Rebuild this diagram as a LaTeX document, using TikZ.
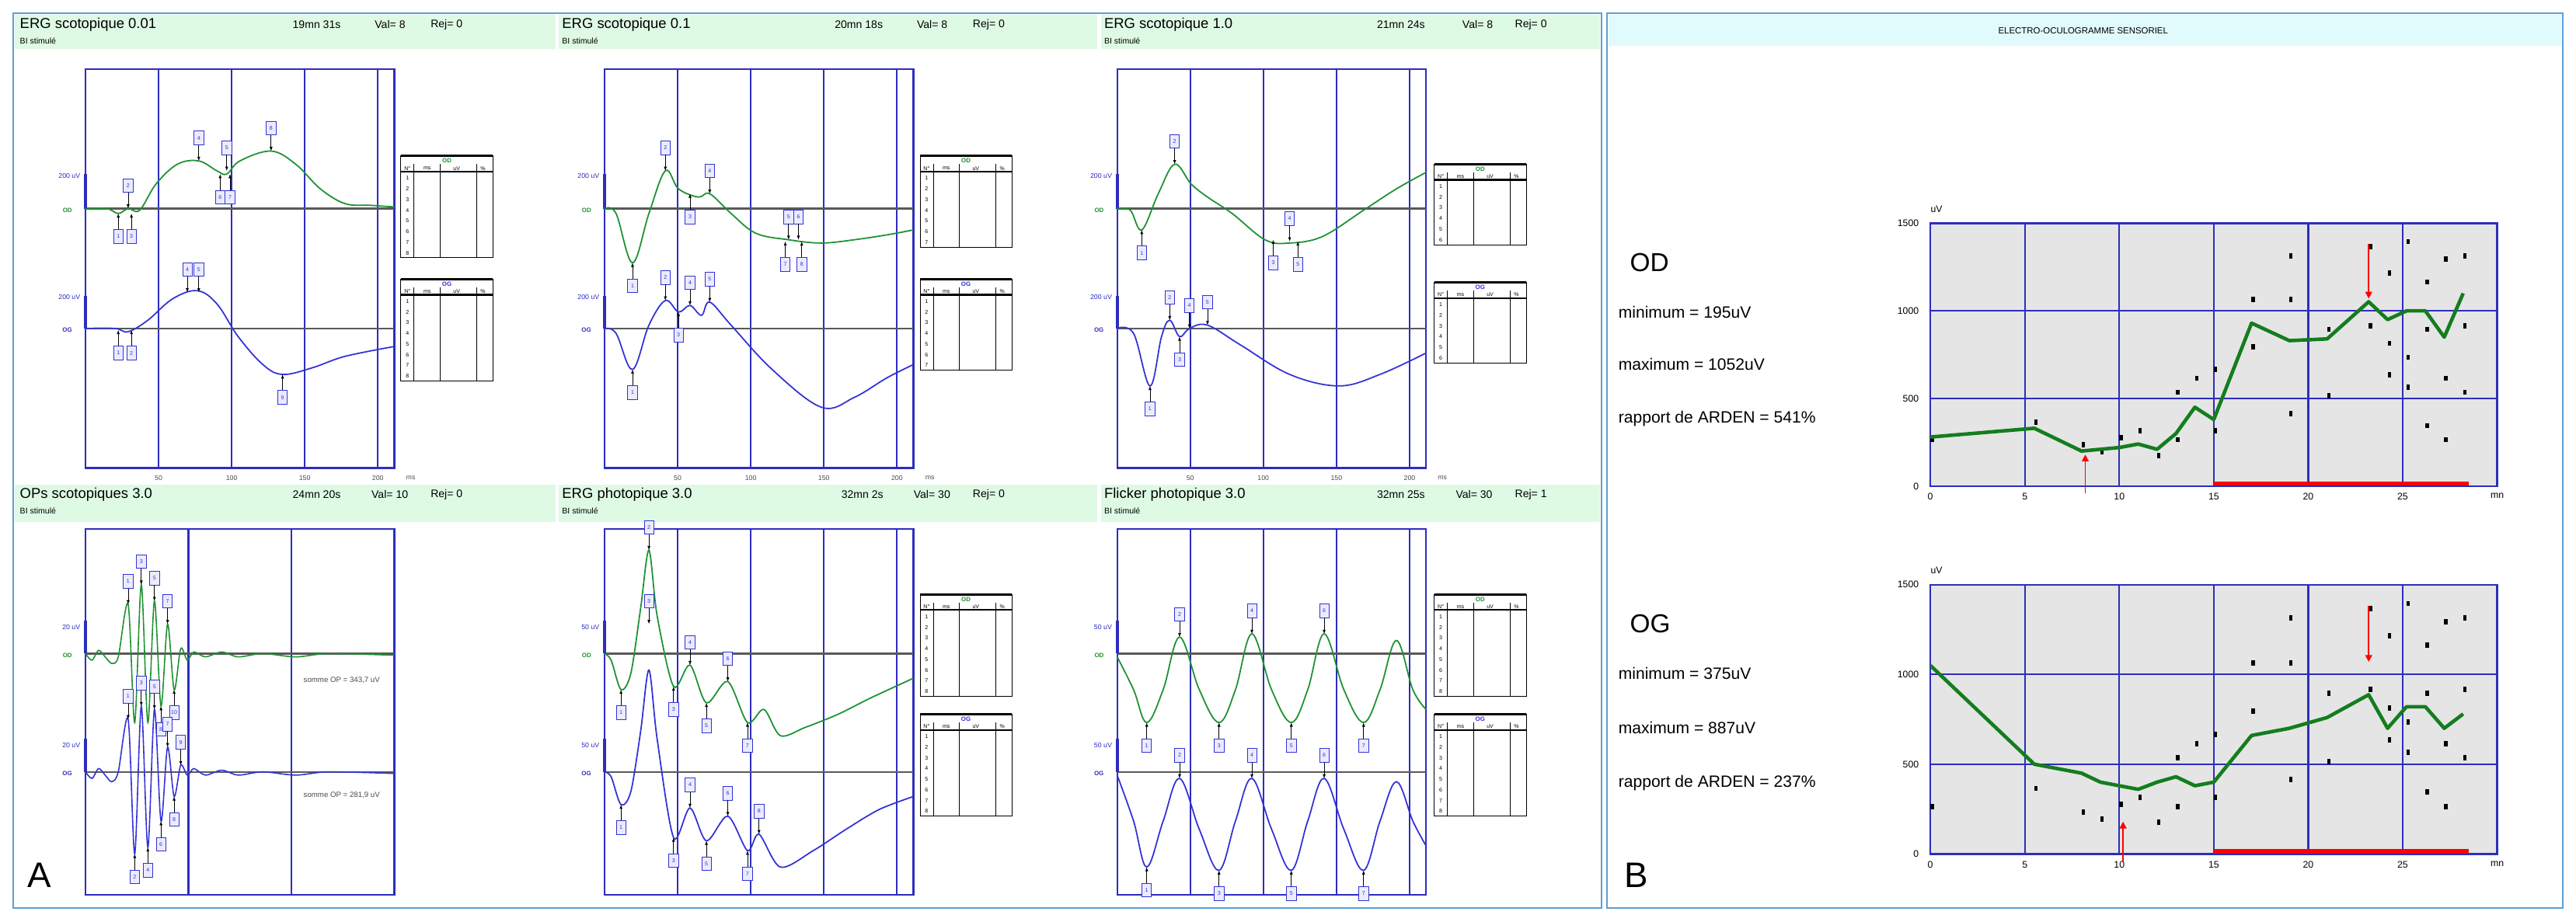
\documentclass[tikz,border=0pt]{standalone}
\usepackage{fontspec}
\setmainfont{Liberation Sans}
\usetikzlibrary{arrows.meta}
\definecolor{gc}{RGB}{30,145,50}
\definecolor{bc}{RGB}{50,50,215}
\definecolor{grid}{RGB}{45,45,190}
\definecolor{hdr}{RGB}{222,250,228}
\definecolor{hdrb}{RGB}{225,250,252}
\definecolor{pb}{RGB}{90,160,215}
\definecolor{eog}{RGB}{20,125,30}
\tikzset{
 ttl/.style={anchor=west,font=\fontsize{10.5}{12}\selectfont,inner sep=0},
 sub/.style={anchor=west,font=\fontsize{6}{7}\selectfont,inner sep=0},
 ax/.style={font=\fontsize{5}{6}\selectfont,inner sep=0,text=grid},
 tb/.style={font=\fontsize{4}{5}\selectfont,inner sep=0},
 mkb/.style={draw=bc,fill=blue!8,font=\fontsize{4}{5}\selectfont,inner sep=0.8pt,minimum width=7pt,minimum height=10pt,text=bc},
 big/.style={anchor=west,font=\fontsize{12}{14}\selectfont,inner sep=0},
 gl/.style={grid,line width=1.3pt},
}
\newcommand\mku[3]{\node[mkb] (m) at (#1,#2-14) {#3}; \draw[-{Latex[length=3pt]},thin] (m.south) -- (#1,#2);}
\newcommand\mkd[3]{\node[mkb] (m) at (#1,#2+14) {#3}; \draw[-{Latex[length=3pt]},thin] (m.north) -- (#1,#2);}
\newcommand\pgridA[5]{% x0 ytop ybot yOD yOG
 \draw[gl] (#1,#2) rectangle (#1+188,#3);
 \draw[gl] (#1+44.5,#2) -- (#1+44.5,#3);
 \draw[gl] (#1+89,#2) -- (#1+89,#3);
 \draw[gl] (#1+133.5,#2) -- (#1+133.5,#3);
 \draw[gl] (#1+178,#2) -- (#1+178,#3);
 \draw[gray!70!black,line width=1.3pt] (#1,#4) -- (#1+188,#4);
 \draw[gray!70!black,line width=1.3pt] (#1,#5) -- (#1+188,#5);}
\newcommand\tbl[5]{% x y label color nrows
 \draw[black,line width=0.5pt] (#1,#2) rectangle (#1+56,#2+10+#5*6.5);
 \draw[black,line width=1.6pt] (#1,#2) -- (#1+56,#2);
 \node[tb,text=#4,font=\fontsize{4.5}{5}\selectfont\bfseries] at (#1+28,#2+3) {#3};
 \draw[line width=1.2pt] (#1,#2+9.5) -- (#1+56,#2+9.5);
 \node[tb] at (#1+4,#2+7.5) {N°};\node[tb] at (#1+16,#2+7.5) {ms};\node[tb] at (#1+34,#2+7.5) {uV};\node[tb] at (#1+50,#2+7.5) {\%};
 \foreach \c in {8,24,46} \draw[line width=0.4pt] (#1+\c,#2+5) -- (#1+\c,#2+10+#5*6.5);
 \foreach \r in {1,...,#5} {\node[tb] at (#1+4,#2+7+\r*6.5) {\r};}}
\begin{document}
\begin{tikzpicture}[x=0.04228cm,y=-0.04228cm]
\useasboundingbox (0,0) rectangle (1568,561);
\fill[white] (0,0) rectangle (1568,561);
% panel frames
\draw[pb,line width=1.2pt] (8,8) rectangle (975,553);
\draw[pb,line width=1.2pt] (978,8) rectangle (1560,553);
% headers
\foreach \xa/\xb in {9/338,340/668,670/974}{
 \fill[hdr] (\xa,9) rectangle (\xb,30);
 \fill[hdr] (\xa,295) rectangle (\xb,318);}
\fill[hdrb] (979,9) rectangle (1559,28);
\node[font=\fontsize{6.5}{8}\selectfont,inner sep=0] at (1268,18.5) {ELECTRO-OCULOGRAMME SENSORIEL};
% titles row1
\node[ttl] at (12,15) {ERG scotopique 0.01};
\node[ttl,font=\fontsize{8}{9}\selectfont] at (178,15) {19mn 31s};
\node[ttl,font=\fontsize{8}{9}\selectfont] at (228,15) {Val= 8};
\node[ttl,font=\fontsize{8}{9}\selectfont] at (262,15) {Rej= 0};
\node[ttl] at (342,15) {ERG scotopique 0.1};
\node[ttl,font=\fontsize{8}{9}\selectfont] at (508,15) {20mn 18s};
\node[ttl,font=\fontsize{8}{9}\selectfont] at (558,15) {Val= 8};
\node[ttl,font=\fontsize{8}{9}\selectfont] at (592,15) {Rej= 0};
\node[ttl] at (672,15) {ERG scotopique 1.0};
\node[ttl,font=\fontsize{8}{9}\selectfont] at (838,15) {21mn 24s};
\node[ttl,font=\fontsize{8}{9}\selectfont] at (890,15) {Val= 8};
\node[ttl,font=\fontsize{8}{9}\selectfont] at (922,15) {Rej= 0};
\foreach \x in {12,342,672} \node[sub] at (\x,25) {BI stimulé};
\node[ttl] at (12,301) {OPs scotopiques 3.0};
\node[ttl,font=\fontsize{8}{9}\selectfont] at (178,301) {24mn 20s};
\node[ttl,font=\fontsize{8}{9}\selectfont] at (226,301) {Val= 10};
\node[ttl,font=\fontsize{8}{9}\selectfont] at (262,301) {Rej= 0};
\node[ttl] at (342,301) {ERG photopique 3.0};
\node[ttl,font=\fontsize{8}{9}\selectfont] at (512,301) {32mn 2s};
\node[ttl,font=\fontsize{8}{9}\selectfont] at (556,301) {Val= 30};
\node[ttl,font=\fontsize{8}{9}\selectfont] at (592,301) {Rej= 0};
\node[ttl] at (672,301) {Flicker photopique 3.0};
\node[ttl,font=\fontsize{8}{9}\selectfont] at (838,301) {32mn 25s};
\node[ttl,font=\fontsize{8}{9}\selectfont] at (886,301) {Val= 30};
\node[ttl,font=\fontsize{8}{9}\selectfont] at (922,301) {Rej= 1};
\foreach \x in {12,342,672} \node[sub] at (\x,311) {BI stimulé};
% top row grids
\foreach \x in {52,368,680}{
 \pgridA{\x}{42}{285}{127}{200}
 \draw[grid,line width=2.2pt] (\x,106) -- (\x,127);
 \draw[grid,line width=2.2pt] (\x,180) -- (\x,200);
 \node[ax,anchor=east] at (\x-3,107) {200 uV};
 \node[ax,anchor=east,text=gc,font=\fontsize{4.5}{5}\selectfont\bfseries] at (\x-8,128) {OD};
 \node[ax,anchor=east] at (\x-3,181) {200 uV};
 \node[ax,anchor=east,font=\fontsize{4.5}{5}\selectfont\bfseries] at (\x-8,201) {OG};
 \foreach \t/\k in {50/1,100/2,150/3,200/4} \node[ax,text=black!70] at (\x+\k*44.5,291) {\t};
 \node[ax,text=black!70] at (\x+198,291) {ms};}
% bottom row grids
\draw[gl] (52,322) rectangle (240,545);
\draw[gl] (114.7,322) -- (114.7,545);
\draw[gl] (177.3,322) -- (177.3,545);
\draw[gray!70!black,line width=1.3pt] (52,398) -- (240,398);
\draw[gray!70!black,line width=1.3pt] (52,470) -- (240,470);
\pgridA{368}{322}{545}{398}{470}
\pgridA{680}{322}{545}{398}{470}
\foreach \x/\u in {52/20 uV,368/50 uV,680/50 uV}{
 \draw[grid,line width=2.2pt] (\x,378) -- (\x,398);
 \draw[grid,line width=2.2pt] (\x,450) -- (\x,470);
 \node[ax,anchor=east] at (\x-3,382) {\u};
 \node[ax,anchor=east,text=gc,font=\fontsize{4.5}{5}\selectfont\bfseries] at (\x-8,399) {OD};
 \node[ax,anchor=east] at (\x-3,454) {\u};
 \node[ax,anchor=east,font=\fontsize{4.5}{5}\selectfont\bfseries] at (\x-8,471) {OG};}
% tables
\tbl{244}{95}{OD}{gc}{8}\tbl{244}{170}{OG}{bc}{8}
\tbl{560}{95}{OD}{gc}{7}\tbl{560}{170}{OG}{bc}{7}
\tbl{873}{100}{OD}{gc}{6}\tbl{873}{172}{OG}{bc}{6}
\tbl{560}{362}{OD}{gc}{8}\tbl{560}{435}{OG}{bc}{8}
\tbl{873}{362}{OD}{gc}{8}\tbl{873}{435}{OG}{bc}{8}
% ERG curves top col1
\draw[gc,line width=1pt] plot[smooth,tension=0.6] coordinates{(52,127)(65,127)(72,130)(78,127)(85,128)(95,112)(108,100)(121,98)(132,104)(138,106)(146,98)(165,92)(180,100)(195,115)(210,124)(225,125)(240,126)};
\draw[bc,line width=1pt] plot[smooth,tension=0.6] coordinates{(52,200)(70,200)(78,202)(90,195)(105,182)(120,177)(132,185)(145,205)(160,222)(172,228)(190,224)(210,217)(240,211)};
\mkd{72}{130}{1}\mku{78}{127}{2}\mkd{80}{130}{3}\mku{121}{98}{4}\mku{138}{104}{5}\mkd{134}{106}{6}\mkd{140}{106}{7}\mku{165}{92}{8}
\mkd{72}{201}{1}\mkd{80}{201}{2}\mku{114}{178}{4}\mku{121}{178}{5}\mkd{172}{228}{9}
% top col2
\draw[gc,line width=1pt] plot[smooth,tension=0.6] coordinates{(368,127)(375,130)(385,160)(395,130)(405,104)(413,115)(425,120)(432,118)(445,130)(460,142)(480,146)(500,148)(520,146)(540,143)(556,140)};
\draw[bc,line width=1pt] plot[smooth,tension=0.6] coordinates{(368,200)(375,203)(385,225)(395,198)(405,183)(413,190)(420,186)(427,192)(432,184)(445,198)(470,225)(500,248)(520,242)(540,230)(556,222)};
\mkd{385}{160}{1}\mku{405}{104}{2}\mkd{420}{118}{3}\mku{432}{118}{4}\mku{480}{146}{5}\mku{486}{146}{6}\mkd{478}{147}{7}\mkd{488}{147}{8}
\mkd{385}{225}{1}\mku{405}{183}{2}\mku{420}{186}{4}\mku{432}{184}{5}\mkd{413}{190}{3}
% top col3
\draw[gc,line width=1pt] plot[smooth,tension=0.6] coordinates{(680,127)(688,128)(695,140)(705,118)(715,100)(725,112)(735,120)(750,130)(770,146)(785,148)(805,144)(830,128)(850,115)(868,105)};
\draw[bc,line width=1pt] plot[smooth,tension=0.6] coordinates{(680,200)(690,203)(700,235)(707,205)(712,195)(718,205)(724,200)(735,198)(755,210)(785,228)(815,235)(840,228)(868,215)};
\mkd{695}{140}{1}\mku{715}{100}{2}\mkd{775}{146}{3}\mku{785}{147}{4}\mkd{790}{147}{5}
\mkd{700}{235}{1}\mku{712}{195}{2}\mkd{718}{205}{3}\mku{724}{200}{4}\mku{735}{198}{5}
% OPs
\draw[gc,line width=0.9pt] plot[smooth,tension=0.5] coordinates{(52,398)(56,402)(60,396)(64,400)(68,404)(72,400)(78,368)(82,440)(86,356)(90,440)(94,366)(98,430)(102,380)(106,420)(110,395)(114,402)(118,397)(125,400)(135,397)(145,400)(160,398)(180,400)(200,398)(240,399)};
\draw[bc,line width=0.9pt] plot[smooth,tension=0.5] coordinates{(52,470)(56,474)(60,468)(64,472)(68,476)(72,470)(78,438)(82,520)(86,430)(90,516)(94,432)(98,500)(102,455)(106,485)(110,466)(114,472)(118,468)(125,472)(135,469)(145,472)(160,470)(180,472)(200,470)(240,471)};
\mku{78}{368}{1}\mku{86}{356}{3}\mku{94}{366}{5}\mku{102}{380}{7}\mkd{98}{430}{8}\mkd{106}{420}{10}
\mku{78}{438}{1}\mku{86}{430}{3}\mku{94}{432}{5}\mku{102}{455}{7}\mkd{82}{520}{2}\mkd{90}{516}{4}\mkd{98}{500}{6}\mku{110}{466}{9}\mkd{106}{485}{8}
\node[ax,text=black!70,font=\fontsize{5.5}{6}\selectfont] at (208,414) {somme OP = 343,7 uV};
\node[ax,text=black!70,font=\fontsize{5.5}{6}\selectfont] at (208,484) {somme OP = 281,9 uV};
% photopic
\draw[gc,line width=1pt] plot[smooth,tension=0.5] coordinates{(368,398)(372,402)(378,420)(384,410)(390,370)(395,335)(400,375)(410,418)(420,405)(430,428)(443,415)(455,440)(465,432)(475,448)(490,443)(510,435)(530,425)(556,413)};
\draw[bc,line width=1pt] plot[smooth,tension=0.5] coordinates{(368,470)(372,473)(378,490)(384,482)(390,445)(395,408)(400,450)(410,510)(420,492)(430,512)(443,497)(455,518)(462,508)(475,528)(495,518)(515,505)(535,493)(556,485)};
\mkd{378}{420}{1}\mku{395}{335}{2}\mku{395}{380}{3}\mkd{410}{418}{3}\mku{420}{405}{4}\mkd{430}{428}{5}\mku{443}{415}{6}\mkd{455}{440}{7}
\mkd{378}{490}{1}\mkd{410}{510}{3}\mku{420}{492}{4}\mkd{430}{512}{5}\mku{443}{497}{6}\mkd{455}{518}{7}\mku{462}{508}{8}
% flicker
\draw[gc,line width=1pt] plot[smooth,tension=0.6] coordinates{(680,400)(690,420)(698,440)(708,420)(718,388)(730,420)(742,440)(752,420)(762,386)(774,420)(786,440)(796,420)(806,386)(818,420)(830,440)(840,420)(850,390)(860,420)(868,432)};
\draw[bc,line width=1pt] plot[smooth,tension=0.6] coordinates{(680,472)(690,500)(698,528)(708,500)(718,474)(730,505)(742,530)(752,500)(762,474)(774,505)(786,530)(796,500)(806,474)(818,505)(830,530)(840,500)(850,476)(860,500)(868,515)};
\mku{718}{388}{2}\mku{762}{386}{4}\mku{806}{386}{6}\mkd{698}{440}{1}\mkd{742}{440}{3}\mkd{786}{440}{5}\mkd{830}{440}{7}
\mkd{698}{528}{1}\mkd{742}{530}{3}\mkd{786}{530}{5}\mkd{830}{530}{7}\mku{718}{474}{2}\mku{762}{474}{4}\mku{806}{474}{6}
% A and B
\node[font=\fontsize{26}{28}\selectfont,inner sep=0] at (24,533) {A};
\node[font=\fontsize{26}{28}\selectfont,inner sep=0] at (996,533) {B};
% EOG texts
\node[anchor=west,font=\fontsize{19}{22}\selectfont,inner sep=0] at (992,160) {OD};
\node[big] at (985,190) {minimum = 195uV};
\node[big] at (985,222) {maximum = 1052uV};
\node[big] at (985,255) {rapport de ARDEN = 541\%};
\node[anchor=west,font=\fontsize{19}{22}\selectfont,inner sep=0] at (992,380) {OG};
\node[big] at (985,410) {minimum = 375uV};
\node[big] at (985,443) {maximum = 887uV};
\node[big] at (985,477) {rapport de ARDEN = 237\%};
% EOG charts
\foreach \yb/\ys/\dat/\ar in {296/0.1067/{(0,280)(5.5,330)(8,200)(9,210)(10,220)(11,240)(12,210)(13,300)(14,450)(15,380)(17,930)(19,830)(21,840)(23.2,1052)(24.2,950)(25.2,1000)(26.2,1000)(27.2,850)(28.2,1100)}/8.2,
 520/0.1093/{(0,1050)(5.5,500)(8,450)(9,400)(10,380)(11,360)(12,400)(13,430)(14,380)(15,400)(17,660)(19,700)(21,760)(23.2,887)(24.2,700)(25.2,820)(26.2,820)(27.2,700)(28.2,780)}/10.2}{
\begin{scope}[shift={(1175,\yb)},xscale=11.5,yscale=-\ys]
 \fill[gray!20] (0,0) rectangle (30,1500);
 \draw[gl] (5,0) -- (5,1500); \draw[gl] (10,0) -- (10,1500); \draw[gl] (15,0) -- (15,1500);
 \draw[gl] (20,0) -- (20,1500); \draw[gl] (25,0) -- (25,1500);
 \draw[gl] (0,500) -- (30,500); \draw[gl] (0,1000) -- (30,1000);
 \draw[gl] (0,0) rectangle (30,1500);
 \foreach \v in {0,500,1000,1500} \node[anchor=east,font=\fontsize{7}{8}\selectfont,inner sep=0] at (-0.6,\v) {\v};
 \foreach \t in {0,5,10,15,20,25} \node[anchor=north,font=\fontsize{7}{8}\selectfont,inner sep=0] at (\t,-40) {\t};
 \node[anchor=north,font=\fontsize{7}{8}\selectfont,inner sep=0] at (30,-40) {mn};
 \node[anchor=south west,font=\fontsize{7}{8}\selectfont,inner sep=0] at (0,1560) {uV};
 \foreach \t/\v in {0/250,5.5/350,8/220,9/180,10/260,11/300,12/160,13/520,13/250,14/600,15/300,15/650,17/1050,17/780,19/1300,19/1050,19/400,21/880,21/500,23.2/1350,23.2/900,24.2/1200,24.2/620,24.2/800,25.2/1380,25.2/720,25.2/550,26.2/1150,26.2/880,26.2/330,27.2/1280,27.2/600,27.2/250,28.2/1300,28.2/520,28.2/900}
   \fill (\t,\v) rectangle +(0.18,30);
 \draw[eog,line width=2.6pt,line join=round] plot coordinates{\dat};
 \draw[red,line width=3pt] (15,15) -- (28.5,15);
 \draw[red,line width=1pt,-{Triangle[length=5pt,width=5pt]}] (\ar,-40) -- (\ar,180);
 \draw[red,line width=1pt,-{Triangle[length=5pt,width=5pt]}] (23.2,1380) -- (23.2,1070);
\end{scope}}
\end{tikzpicture}
\end{document}
